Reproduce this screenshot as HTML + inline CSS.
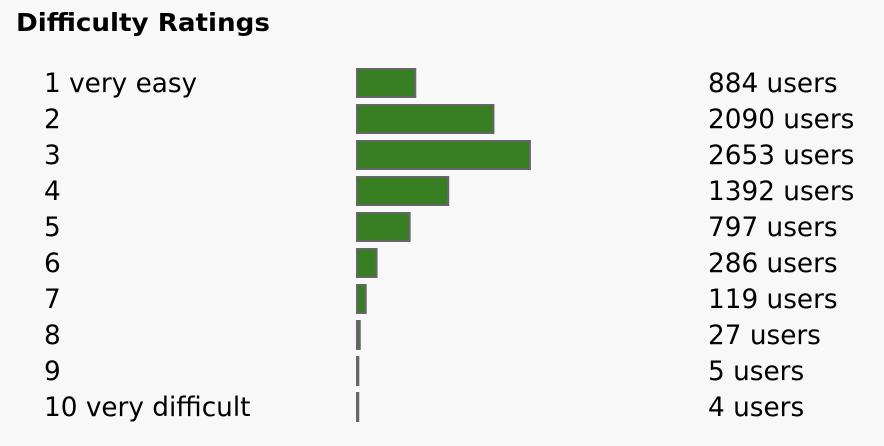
<!DOCTYPE html>
<html><head><meta charset="utf-8"><style>
body{margin:0;background:#f8f8f8;font-family:"DejaVu Sans","Liberation Sans",sans-serif;}
#c{position:relative;width:884px;height:446px;overflow:hidden;}
</style></head><body>
<div id="c">
<svg width="884" height="446">
<text x="16" y="31" font-size="25" font-weight="bold" fill="#000" textLength="254" lengthAdjust="spacingAndGlyphs">Difficulty Ratings</text>
<g id="rows"></g>
</svg>
</div>
<script>
const categories=["1 very easy","2","3","4","5","6","7","8","9","10 very difficult"];
const values=[884,2090,2653,1392,797,286,119,27,5,4];
const scale=v=>v*0.0648;
const g=document.getElementById('rows');
const NS='http://www.w3.org/2000/svg';
categories.forEach((c,i)=>{
  const y=68+i*36;
  const t=document.createElementNS(NS,'text');
  t.setAttribute('x',44);t.setAttribute('y',y+24);t.setAttribute('font-size','26.3');
  t.textContent=c;
  
  
  g.appendChild(t);
  const r=document.createElementNS(NS,'rect');
  r.setAttribute('x',357);r.setAttribute('y',y+1);
  r.setAttribute('width',Math.max(1,scale(values[i])+1));r.setAttribute('height',28);
  r.setAttribute('fill','#377e22');r.setAttribute('stroke','#666');r.setAttribute('stroke-width','2');
  
  
  g.appendChild(r);
  const v=document.createElementNS(NS,'text');
  v.setAttribute('x',708);v.setAttribute('y',y+24);v.setAttribute('font-size','26.3');
  v.textContent=values[i]+' users';
  
  
  g.appendChild(v);
});
</script>
</body></html>
